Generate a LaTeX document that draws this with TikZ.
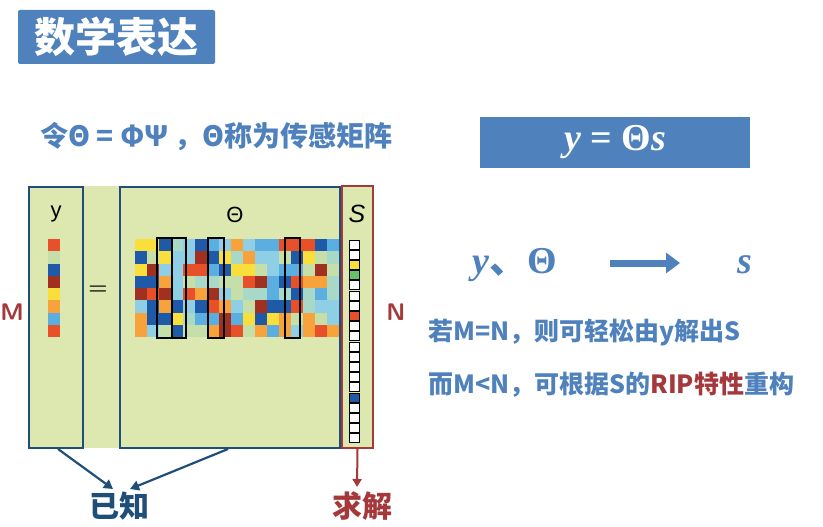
\documentclass[tikz,border=0pt]{standalone}
\usepackage{fontspec}
\newfontfamily\cjk{Noto Sans CJK SC}
\newfontfamily\ser{Liberation Serif}
\newfontfamily\sans{Liberation Sans}
\usetikzlibrary{arrows.meta}
\definecolor{myblue}{HTML}{4F81BD}
\definecolor{mydark}{HTML}{1F4E79}
\definecolor{myred}{HTML}{A5383B}
\definecolor{bg}{HTML}{DDE8B0}
\definecolor{c0}{HTML}{E8502A}
\definecolor{c1}{HTML}{A0301F}
\definecolor{c2}{HTML}{F7A23A}
\definecolor{c3}{HTML}{FADF3C}
\definecolor{c4}{HTML}{C6DEA8}
\definecolor{c5}{HTML}{8FCFE6}
\definecolor{c6}{HTML}{1F5AA8}
\definecolor{c7}{HTML}{5AAEE0}
\definecolor{c8}{HTML}{A8D8C8}
\newcommand\iv[1]{{\itshape #1}}
\tikzset{
 bluebox/.style={draw=mydark,line width=2pt},
 colbox/.style={draw=black,line width=1.6pt},
 txt/.style={font=\cjk\bfseries\fontsize{25}{28}\selectfont,text=myblue,anchor=west,inner sep=0},
 arr/.style={-{Triangle[length=9pt,width=10pt]},line width=2.2pt,draw=mydark},
 mathtxt/.style={font=\ser\bfseries\fontsize{38}{40}\selectfont,inner sep=0},
}
\begin{document}
\begin{tikzpicture}[x=1pt,y=-1pt]
\useasboundingbox (0,0) rectangle (823,527);
\node[fill=myblue,rounded corners=2pt,minimum width=197,minimum height=54,inner sep=0,text=white,font=\cjk\bfseries\fontsize{41}{44}\selectfont] (title) at (116.5,37) {数学表达};
\node[txt,font=\cjk\bfseries\fontsize{28}{30}\selectfont] (def) at (40,137) {令Θ = ΦΨ ，Θ称为传感矩阵};
\fill[bg] (28,186) rectangle (373,448);
\node[bluebox,minimum width=54,minimum height=261,inner sep=0] (ybox) at (56,317) {};
\node[bluebox,minimum width=220,minimum height=261,inner sep=0] (tbox) at (230,317) {};
\node[draw=myred,line width=2pt,minimum width=31,minimum height=262,inner sep=0] (sbox) at (357.5,317) {};
\node[font=\sans\fontsize{22}{24}\selectfont] (ylab) at (56,214) {y};
\node[font=\sans\fontsize{22}{24}\selectfont] (tlab) at (235,215) {Θ};
\node[font=\sans\itshape\fontsize{25}{28}\selectfont] (slab) at (357,214) {S};
\node[font=\bfseries\fontsize{22}{24}\selectfont] (eq) at (98,290) {=};
% y vector
\foreach \c [count=\i from 0] in {c0,c4,c6,c1,c3,c2,c7,c0}
  \fill[\c] (48,239+12.25*\i) rectangle (60,251.25+12.25*\i);
% theta matrix
\pgfmathsetseed{11}
\foreach \r in {0,...,7}
 \foreach \k in {0,...,16}{
  \pgfmathrandominteger{\q}{0}{11}
  \ifnum\q>8 \pgfmathsetmacro{\q}{int(\q-5)}\fi
  \fill[c\q] (135+12*\k,239+12.25*\r) rectangle (147+12*\k,251.25+12.25*\r);
 }
\foreach \a/\b in {157/172,172/186,208/224,285/300}
  \draw[colbox] (\a,238) rectangle (\b,338);
% s vector
\foreach \i in {0,...,19}{
  \def\cc{white}
  \ifnum\i=2 \def\cc{c3}\fi
  \ifnum\i=3 \def\cc{green!60!black!60}\fi
  \ifnum\i=7 \def\cc{c0}\fi
  \ifnum\i=15 \def\cc{c6}\fi
  \filldraw[fill=\cc,draw=black,line width=0.8pt] (349,240+10.2*\i) rectangle (359,249+10.2*\i);
}
\node[font=\sffamily\bfseries\fontsize{24}{26}\selectfont,text=myred] (M) at (12,312) {M};
\node[font=\sffamily\bfseries\fontsize{24}{26}\selectfont,text=myred] (N) at (396,312) {N};
\node[font=\cjk\bfseries\fontsize{30}{32}\selectfont,text=mydark] (known) at (119,506) {已知};
\node[font=\cjk\bfseries\fontsize{30}{32}\selectfont,text=myred] (solve) at (362,506) {求解};
\coordinate (ya) at (58,449);
\coordinate (ta) at (228,449);
\draw[arr] (ya) -- (113,489);
\draw[arr] (ta) -- (130,489);
\draw[-{Triangle[length=8pt,width=9pt]},line width=2pt,draw=myred] (sbox.south) -- (357,487);
% right side
\fill[myblue] (480,117) rectangle (750,168);
\node[mathtxt,text=white] (eqbox) at (615,142.5) {\iv{y} = Θ\iv{s}};
\node[mathtxt,text=myblue] (yt) at (515,265) {\iv{y}{\cjk\bfseries 、}Θ};
\node[mathtxt,text=myblue] (s) at (745,265) {\iv{s}};
\coordinate (a1) at (610,263);
\coordinate (a2) at (680,263);
\draw[-{Triangle[length=14pt,width=20pt]},line width=7pt,draw=myblue] (a1) -- (a2);
\node[txt] (l1) at (428,333) {若M=N，则可轻松由y解出S};
\node[txt] (l2) at (428,385) {而M<N，可根据S的\textcolor{myred}{RIP特性}重构};
\end{tikzpicture}
\end{document}
